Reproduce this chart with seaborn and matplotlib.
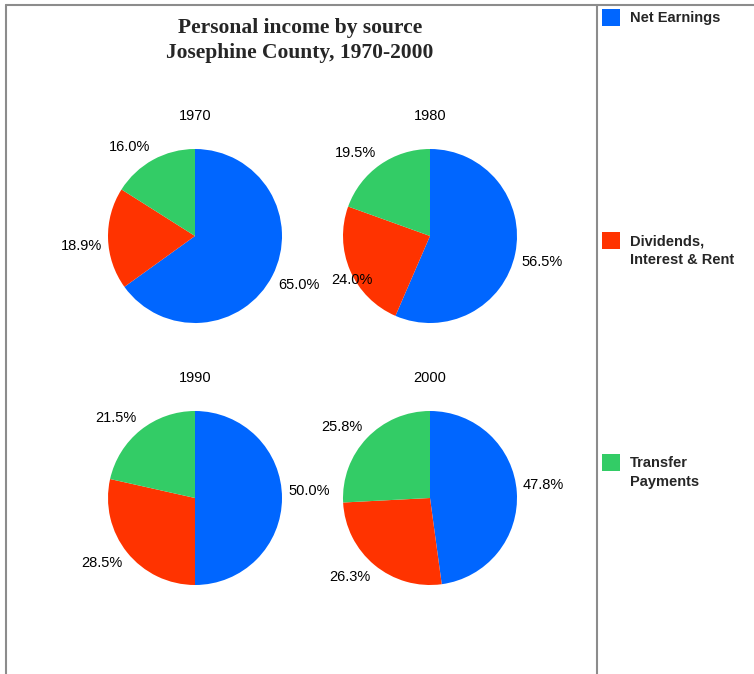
import matplotlib
matplotlib.use('Agg')
import matplotlib.pyplot as plt
import seaborn as sns
from matplotlib.patches import Rectangle
from matplotlib.lines import Line2D

# data (percent of personal income)
years = ['1970', '1980', '1990', '2000']
sources = ['Net Earnings', 'Dividends,\nInterest & Rent', 'Transfer\nPayments']
net_earnings = [65.0, 56.5, 50.0, 47.8]
dividends = [18.9, 24.0, 28.5, 26.3]
transfers = [16.0, 19.5, 21.5, 25.8]

colors = ['#0066ff', '#ff3300', '#33cc66']

sns.set_theme(style='white')
plt.rcParams['font.family'] = ['Liberation Sans', 'DejaVu Sans']

W, H = 754, 674
fig = plt.figure(figsize=(W / 100, H / 100), dpi=100)
fig.patch.set_facecolor('white')

# pie centres in pixels (x, y from top), radius in pixels
centres = [(195, 236), (430, 236), (195, 498), (430, 498)]
r = 87

all_texts = []
for i, year in enumerate(years):
    cx, cy = centres[i]
    ax = fig.add_axes([(cx - r) / W, (H - cy - r) / H, 2 * r / W, 2 * r / H])
    vals = [net_earnings[i], dividends[i], transfers[i]]
    labels = [f'{v:.1f}%' for v in vals]
    wedges, texts = ax.pie(vals, colors=colors, labels=labels, startangle=90,
                           counterclock=False, labeldistance=1.07,
                           wedgeprops={'linewidth': 0, 'edgecolor': 'none'},
                           textprops={'fontsize': 10.5, 'color': 'black'})
    for t in texts:
        x, y = t.get_position()
        t.set_va('top' if y < 0 else 'bottom')
    ax.set_xlim(-1, 1)
    ax.set_ylim(-1, 1)
    ax.set_aspect('equal')
    ax.text(0, 1.38, year, ha='center', va='center', fontsize=10.5, color='black')
    all_texts.extend(texts)

# push a percent label to the right if it runs into one drawn before it
renderer = fig.canvas.get_renderer()
for j, t in enumerate(all_texts):
    bb = t.get_window_extent(renderer)
    for prev in all_texts[:j]:
        pb = prev.get_window_extent(renderer)
        if bb.overlaps(pb):
            inv = t.axes.transData.inverted()
            new_x = inv.transform((pb.x1 + 12, 0))[0]
            t.set_ha('left')
            t.set_x(new_x)
            bb = t.get_window_extent(renderer)

# title
fig.text(300 / W, 1 - 28 / H, 'Personal income by source', ha='center', va='center',
         fontsize=15.5, fontweight='bold', family='Liberation Serif')
fig.text(300 / W, 1 - 53 / H, 'Josephine County, 1970-2000', ha='center', va='center',
         fontsize=15.5, fontweight='bold', family='Liberation Serif')

# legend on the right panel
legend_tops = [9, 232, 454]
for src, col, top in zip(sources, colors, legend_tops):
    fig.patches.append(Rectangle((602 / W, 1 - (top + 17) / H), 18 / W, 17 / H,
                                 transform=fig.transFigure, facecolor=col,
                                 edgecolor='none'))
    fig.text(630 / W, 1 - (top + 2) / H, src, ha='left', va='top', fontsize=10.5,
             fontweight='bold', linespacing=1.45)

# frame lines
for xs, ys in [([6, W], [5, 5]), ([6, 6], [5, H]), ([597, 597], [5, H])]:
    fig.add_artist(Line2D([x / W for x in xs], [1 - y / H for y in ys],
                          color='#8c8c8c', lw=1.5, transform=fig.transFigure))

fig.savefig('out.png', dpi=100)
